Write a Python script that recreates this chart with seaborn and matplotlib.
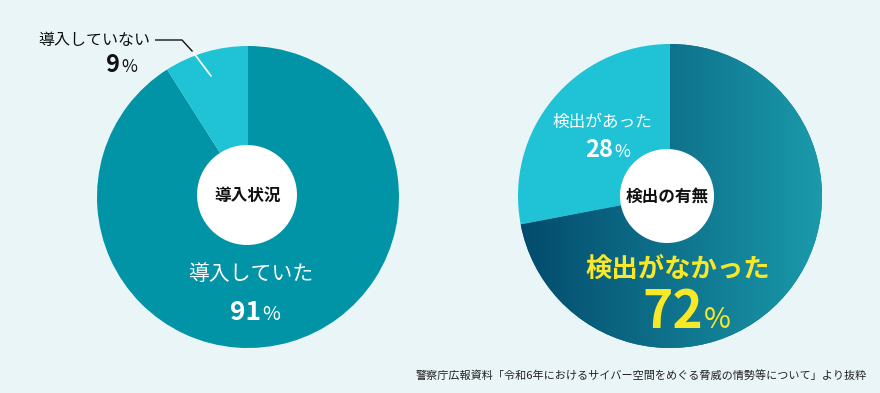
import numpy as np
import matplotlib
matplotlib.use("Agg")
import matplotlib.pyplot as plt
from matplotlib.patches import Circle
from matplotlib.colors import LinearSegmentedColormap
import seaborn as sns

# data
left_labels = ["導入していた", "導入していない"]
left_values = [91, 9]
left_title = "導入状況"

right_labels = ["検出がなかった", "検出があった"]
right_values = [72, 28]
right_title = "検出の有無"

source_text = "警察庁広報資料「令和6年におけるサイバー空間をめぐる脅威の情勢等について」より抜粋"

sns.set_theme(style="white")
plt.rcParams["font.family"] = ["Noto Sans CJK JP", "DejaVu Sans"]

BG = "#eaf5f8"
W, H = 880, 393


def Y(y):
    # picture rows -> axes y (upwards)
    return H - y


fig = plt.figure(figsize=(8.8, 3.93), dpi=100, facecolor=BG)
ax = fig.add_axes([0, 0, 1, 1])
ax.set_facecolor(BG)

# left pie
lc = (248, Y(197))
lr = 151
ax.pie(left_values, colors=["#0094a6", "#20c2d6"], startangle=90,
       counterclock=False, center=lc, radius=lr, frame=True,
       wedgeprops=dict(linewidth=0))

# right pie
rc = (670, Y(196))
rr = 152
rw, _ = ax.pie(right_values, colors=["#0a6f8c", "#20c2d6"], startangle=90,
               counterclock=False, center=rc, radius=rr, frame=True,
               wedgeprops=dict(linewidth=0))

# horizontal gradient on the 72% wedge
cmap = LinearSegmentedColormap.from_list("grad", ["#034a6c", "#1a9aab"])
grad = np.linspace(0, 1, 256).reshape(1, -1)
img = ax.imshow(grad, cmap=cmap, aspect="auto", interpolation="bicubic",
                extent=(rc[0] - rr, rc[0] + rr, rc[1] - rr, rc[1] + rr), zorder=1.5)
img.set_clip_path(rw[0])

ax.set_xlim(0, W)
ax.set_ylim(0, H)
ax.set_aspect("equal")
ax.axis("off")

# centre circles
ax.add_patch(Circle((247, Y(195)), 50, facecolor="white", edgecolor="none", zorder=3))
ax.add_patch(Circle((667, Y(196)), 47, facecolor="white", edgecolor="none", zorder=3))

ax.text(248, Y(196), left_title, ha="center", va="center", fontsize=12,
        fontweight="bold", color="#111111", zorder=4)
ax.text(667, Y(197), right_title, ha="center", va="center", fontsize=12,
        fontweight="bold", color="#111111", zorder=4)

# left labels
ax.text(251, Y(274), left_labels[0], ha="center", va="center", fontsize=15,
        color="white", zorder=4)
ax.text(261, Y(320), str(left_values[0]), ha="right", va="baseline", fontsize=19,
        fontweight="bold", color="white", zorder=4)
ax.text(262, Y(320), "%", ha="left", va="baseline", fontsize=14,
        color="white", zorder=4)

ax.text(150, Y(40), left_labels[1], ha="right", va="center", fontsize=11.5,
        color="#111111", zorder=4)
ax.text(120, Y(72), str(left_values[1]), ha="right", va="baseline", fontsize=17,
        fontweight="bold", color="#111111", zorder=4)
ax.text(121, Y(72), "%", ha="left", va="baseline", fontsize=12.5,
        color="#111111", zorder=4)

# leader line
ax.plot([155, 182, 193], [Y(40), Y(40), Y(52)], color="#111111", lw=1.0,
        solid_capstyle="butt", zorder=4)
ax.plot([193, 211], [Y(52), Y(76)], color="white", lw=1.2, zorder=4)

# right labels
ax.text(602, Y(122), right_labels[1], ha="center", va="center", fontsize=12,
        color="white", zorder=4)
ax.text(613, Y(157), str(right_values[1]), ha="right", va="baseline", fontsize=17,
        fontweight="bold", color="white", zorder=4)
ax.text(614, Y(157), "%", ha="left", va="baseline", fontsize=12.5,
        color="white", zorder=4)

YELLOW = "#f7e82a"
ax.text(678, Y(269), right_labels[0], ha="center", va="center", fontsize=19,
        fontweight="bold", color=YELLOW, zorder=4)
ax.text(703, Y(328), str(right_values[0]), ha="right", va="baseline", fontsize=37,
        fontweight="bold", color=YELLOW, zorder=4)
ax.text(704, Y(328), "%", ha="left", va="baseline", fontsize=21,
        color=YELLOW, zorder=4)

# source
ax.text(867, Y(376), source_text, ha="right", va="center", fontsize=8,
        color="#222222", zorder=4)

fig.savefig("out.png", dpi=100, facecolor=BG)
